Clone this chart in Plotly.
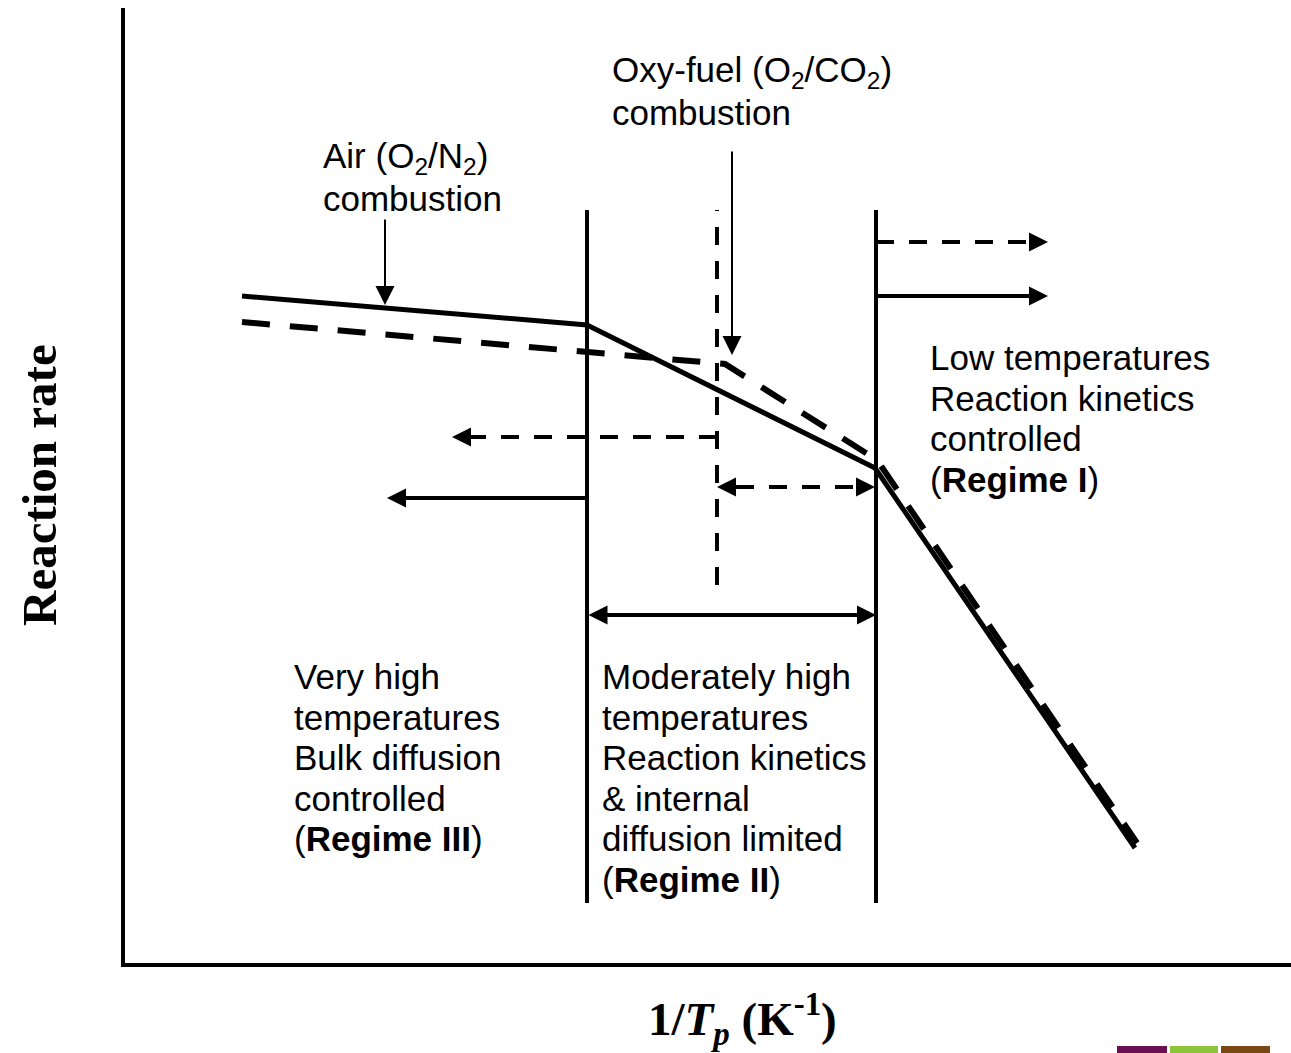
import plotly.graph_objects as go

# ---- schematic data (arbitrary units: x = 1/Tp, y = reaction rate) ----
air_x = [117, 462, 750, 1010]
air_y = [667, 638, 495, 115]
oxy_x = [117, 600, 752, 1012]
oxy_y = [641, 599, 503, 120]

regime_bounds_air = [462, 751]       # solid vertical boundaries
regime_bound_oxy = 592               # dashed vertical boundary
bound_top = 753
bound_bottom = 60
oxy_bound_bottom = 378

# arrows: (x_tail, y_tail, x_tip, y_tip)
arrow_air_label = (260, 745, 260, 658)
arrow_oxy_label = (607, 813, 607, 608)
arrow_right_oxy = (751, 721, 923, 721)
arrow_right_air = (751, 667, 923, 667)
arrow_left_oxy = (592, 526, 327, 526)
arrow_left_air = (462, 465, 262, 465)
arrow_regime2_oxy = (592, 476, 750, 476)
arrow_regime2_air = (462, 348, 751, 348)

# text blocks: (x_left, first_baseline_y, lines)
LINE_STEP = 40.5
text_oxy = (486, 879, ["Oxy-fuel (O<sub>2</sub>/CO<sub>2</sub>)", "combustion"])
text_air = (197, 793, ["Air (O<sub>2</sub>/N<sub>2</sub>)", "combustion"])
text_reg1 = (804, 593, ["Low temperatures", "Reaction kinetics", "controlled", "(<b>Regime I</b>)"])
text_reg3 = (168, 274, ["Very high", "temperatures", "Bulk diffusion", "controlled", "(<b>Regime III</b>)"])
text_reg2 = (476, 274, ["Moderately high", "temperatures", "Reaction kinetics", "& internal",
                        "diffusion limited", "(<b>Regime II</b>)"])

x_title = "<b>1/<i>T</i><sub><i>p</i></sub> (K<sup>-1</sup>)</b>"
y_title = "<b>Reaction rate</b>"

W, H = 1291, 1053
ML, MR, MT, MB = 125, 0, 8, 90
XR = [0, W - ML - MR]
YR = [0, H - MT - MB]

SANS = "Liberation Sans, Arial, sans-serif"
SERIF = "Liberation Serif, Times New Roman, serif"
FS = 35

fig = go.Figure()

def line(xs, ys, width, dash="solid"):
    fig.add_trace(go.Scatter(x=xs, y=ys, mode="lines",
                             line=dict(color="black", width=width, dash=dash),
                             hoverinfo="skip", showlegend=False))

# main curves
line(air_x, air_y, 5)
line(oxy_x, oxy_y, 6, "28px,20px")

# regime boundaries
for bx in regime_bounds_air:
    line([bx, bx], [bound_bottom, bound_top], 4)
line([regime_bound_oxy, regime_bound_oxy], [oxy_bound_bottom, bound_top], 4, "18px,16px")

annotations = []
HEAD = 19

def head(x0, y0, x1, y1, width, start=False):
    annotations.append(dict(x=x1, y=y1, ax=x0, ay=y0, xref="x", yref="y",
                            axref="x", ayref="y", text="", showarrow=True,
                            arrowhead=2, arrowsize=HEAD / (5 * width), arrowwidth=width,
                            arrowcolor="black", standoff=0, startstandoff=0,
                            arrowside="end+start" if start else "end"))

def solid_arrow(a, width=4, both=False):
    head(*a, width, start=both)

def unit(a):
    x0, y0, x1, y1 = a
    dx, dy = x1 - x0, y1 - y0
    n = (dx * dx + dy * dy) ** 0.5
    return dx / n, dy / n

def dashed_arrow(a, width=4, both=False):
    x0, y0, x1, y1 = a
    ux, uy = unit(a)
    sx0, sy0 = (x0 + ux * HEAD, y0 + uy * HEAD) if both else (x0, y0)
    line([sx0, x1 - ux * HEAD], [sy0, y1 - uy * HEAD], width, "18px,15px")
    head(x1 - ux * HEAD, y1 - uy * HEAD, x1, y1, width)
    if both:
        head(x0 + ux * HEAD, y0 + uy * HEAD, x0, y0, width)

solid_arrow(arrow_air_label, 2)
solid_arrow(arrow_oxy_label, 2)
solid_arrow(arrow_right_air, 4)
solid_arrow(arrow_left_air, 4)
solid_arrow(arrow_regime2_air, 4, both=True)
dashed_arrow(arrow_right_oxy, 4)
dashed_arrow(arrow_left_oxy, 4)
dashed_arrow(arrow_regime2_oxy, 4, both=True)

def block(spec):
    x, y0, lines = spec
    for i, t in enumerate(lines):
        annotations.append(dict(x=x, y=y0 - i * LINE_STEP + 0.35 * FS, xref="x", yref="y",
                                text=t, showarrow=False, xanchor="left", yanchor="middle",
                                align="left", borderpad=0,
                                font=dict(family=SANS, size=FS, color="black")))

for b in (text_oxy, text_air, text_reg1, text_reg3, text_reg2):
    block(b)

# pixel -> paper helper for items outside the plotting area
def px_to_paper(px, py):
    return ((px - ML) / (W - ML - MR), (H - MB - py) / (H - MT - MB))

xt = px_to_paper(742, 1019)
yt = px_to_paper(40, 485)
annotations.append(dict(x=xt[0], y=xt[1], xref="paper", yref="paper", text=x_title,
                        showarrow=False, xanchor="center", yanchor="middle",
                        font=dict(family=SERIF, size=47, color="black")))
annotations.append(dict(x=yt[0], y=yt[1], xref="paper", yref="paper", text=y_title,
                        showarrow=False, textangle=-90, xanchor="center", yanchor="middle",
                        font=dict(family=SERIF, size=49, color="black")))

# small logo strip at bottom-right
shapes = []
for (x0, x1, col) in [(1117, 1167, "#6a1052"), (1170, 1218, "#8cc43c"), (1221, 1270, "#7a4812")]:
    p0 = px_to_paper(x0, 1046)
    p1 = px_to_paper(x1, 1053)
    shapes.append(dict(type="rect", xref="paper", yref="paper", x0=p0[0], x1=p1[0],
                       y0=p1[1], y1=p0[1], fillcolor=col, line=dict(width=0)))

fig.update_layout(
    width=W, height=H, autosize=False,
    margin=dict(l=ML, r=MR, t=MT, b=MB, pad=0),
    paper_bgcolor="white", plot_bgcolor="white",
    xaxis=dict(range=XR, showline=True, linewidth=4, linecolor="black", showgrid=False,
               zeroline=False, showticklabels=False, ticks="", fixedrange=True),
    yaxis=dict(range=YR, showline=True, linewidth=4, linecolor="black", showgrid=False,
               zeroline=False, showticklabels=False, ticks="", fixedrange=True),
    annotations=annotations, shapes=shapes, showlegend=False,
)

fig.write_html("out.html", config={"displayModeBar": False})
